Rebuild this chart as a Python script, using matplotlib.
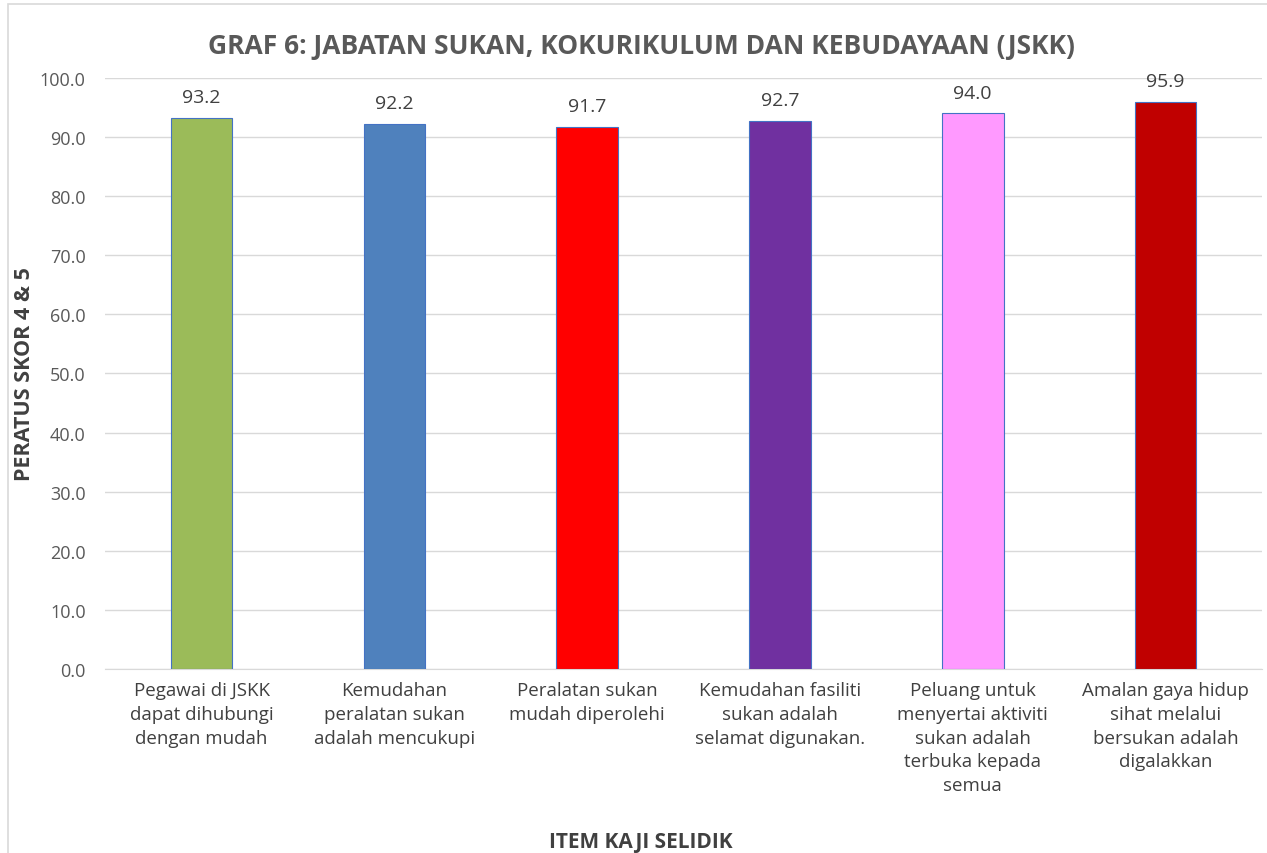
import numpy as np
from matplotlib import pyplot as plt
from matplotlib.patches import Rectangle

plt.rcParams['font.family'] = ['Open Sans', 'DejaVu Sans']

categories = ['Pegawai di JSKK\ndapat dihubungi\ndengan mudah',
              'Kemudahan\nperalatan sukan\nadalah mencukupi',
              'Peralatan sukan\nmudah diperolehi',
              'Kemudahan fasiliti\nsukan adalah\nselamat digunakan.',
              'Peluang untuk\nmenyertai aktiviti\nsukan adalah\nterbuka kepada\nsemua',
              'Amalan gaya hidup\nsihat melalui\nbersukan adalah\ndigalakkan']
values = [93.2, 92.2, 91.7, 92.7, 94.0, 95.9]
colors = ['#9BBB59', '#4F81BD', '#FF0000', '#7030A0', '#FF99FF', '#C00000']

fig = plt.figure(figsize=(12.67, 8.54), dpi=100)
fig.patches.append(Rectangle((0.006, -0.1), 1.2, 1.094, transform=fig.transFigure,
                             fill=False, edgecolor='#D9D9D9', linewidth=1.2))
ax = fig.add_axes([0.083, 0.2155, 0.913, 0.692])

x = np.arange(len(values))
bars = ax.bar(x, values, width=0.32, color=colors, edgecolor='#4472C4', linewidth=0.8, zorder=3)
for xi, v in zip(x, values):
    ax.text(xi, v + 2.0, '%.1f' % v, ha='center', va='bottom', fontsize=14, color='#404040')

ax.set_xlim(-0.5, len(values) - 0.5)
ax.set_ylim(0, 100)
ax.set_yticks(np.arange(0, 101, 10))
ax.set_yticklabels(['%.1f' % t for t in np.arange(0, 101, 10)], fontsize=13, color='#595959')
ax.set_xticks(x)
ax.set_xticklabels(categories, fontsize=13.5, color='#404040', linespacing=1.4, va='top')
ax.tick_params(axis='both', length=0)
ax.tick_params(axis='x', pad=9)
ax.tick_params(axis='y', pad=14)
ax.grid(axis='y', color='#D9D9D9', linewidth=1, zorder=0)
for s in ['top', 'right', 'left']:
    ax.spines[s].set_visible(False)
ax.spines['bottom'].set_color('#D9D9D9')

ax.set_ylabel('PERATUS SKOR 4 & 5', fontsize=15.5, fontweight='bold', color='#404040')
ax.yaxis.set_label_coords(-0.061, 0.5)
fig.text(0.506, 0.013, 'ITEM KAJI SELIDIK', ha='center', va='center', fontsize=15,
         fontweight='bold', color='#404040')
fig.text(0.506, 0.945, 'GRAF 6: JABATAN SUKAN, KOKURIKULUM DAN KEBUDAYAAN (JSKK)', ha='center',
         va='center', fontsize=19, fontweight='bold', color='#595959')

fig.savefig('out.png', dpi=100)
